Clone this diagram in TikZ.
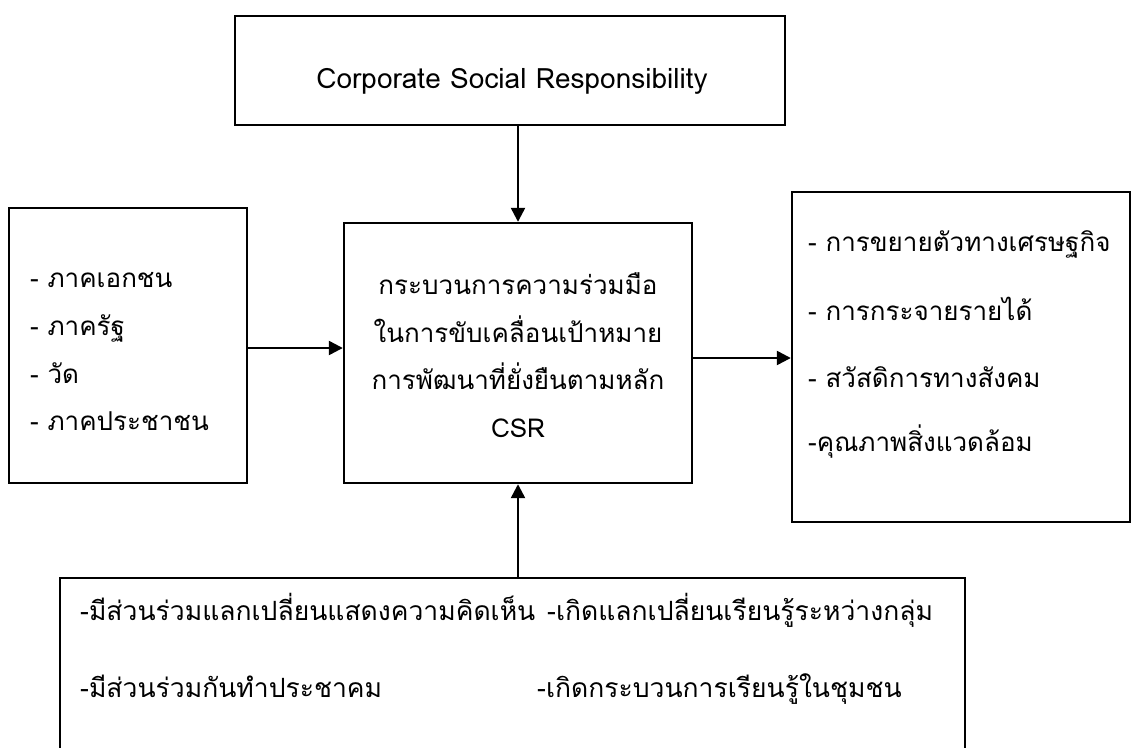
\documentclass[tikz,border=0pt]{standalone}
\usepackage{fontspec}
\setmainfont[Script=Thai]{Loma}
\usetikzlibrary{arrows.meta}
\begin{document}
\begin{tikzpicture}[x=1pt,y=-1pt,
  box/.style={draw=black, line width=2.4pt, inner sep=0pt},
  txt/.style={inner sep=0pt, font=\fontsize{26}{30}\selectfont},
  btxt/.style={inner sep=0pt, font=\fontsize{26.5}{30}\selectfont},
  conn/.style={line width=2.4pt, -{Triangle[length=14pt,width=14pt]}}]
\useasboundingbox (0,0) rectangle (1132,747);
\fill[white] (0,0) rectangle (1132,747);
% boxes
\node[box, minimum width=550pt, minimum height=109pt] (top) at (510,70.5) {};
\node[box, minimum width=238pt, minimum height=275pt] (lft) at (128,345.5) {};
\node[box, minimum width=348pt, minimum height=260pt] (ctr) at (518,353) {};
\node[box, minimum width=338pt, minimum height=330pt] (rgt) at (961,357) {};
\node[box, minimum width=905pt, minimum height=190pt] (bot) at (512.5,673) {};
% texts
\node[inner sep=0pt, font=\fontsize{28}{32}\selectfont, anchor=base] (t0) at (512,88) {Corporate Social Responsibility};
\node[txt, anchor=base west] (l1) at (30,287) {- ภาคเอกชน};
\node[txt, anchor=base west] (l2) at (30,335) {- ภาครัฐ};
\node[txt, anchor=base west] (l3) at (30,383) {- วัด};
\node[txt, anchor=base west] (l4) at (30,430) {- ภาคประชาชน};
\node[txt, anchor=base] (c1) at (518,294) {กระบวนการความร่วมมือ};
\node[txt, anchor=base] (c2) at (518,342) {ในการขับเคลื่อนเป้าหมาย};
\node[txt, anchor=base] (c3) at (518,389) {การพัฒนาที่ยั่งยืนตามหลัก};
\node[txt, anchor=base] (c4) at (518,437) {CSR};
\node[txt, anchor=base west] (r1) at (808,251) {- การขยายตัวทางเศรษฐกิจ};
\node[txt, anchor=base west] (r2) at (808,320) {- การกระจายรายได้};
\node[txt, anchor=base west] (r3) at (808,387) {- สวัสดิการทางสังคม};
\node[txt, anchor=base west] (r4) at (808,451) {-คุณภาพสิ่งแวดล้อม};
\node[btxt, anchor=base west] (b1) at (80,620) {-มีส่วนร่วมแลกเปลี่ยนแสดงความคิดเห็น};
\node[btxt, anchor=base west] (b2) at (547,620) {-เกิดแลกเปลี่ยนเรียนรู้ระหว่างกลุ่ม};
\node[btxt, anchor=base west] (b3) at (80,697) {-มีส่วนร่วมกันทำประชาคม};
\node[btxt, anchor=base west] (b4) at (537,697) {-เกิดกระบวนการเรียนรู้ในชุมชน};
% connectors
\draw[conn] (top.south -| ctr.north) -- (ctr.north);
\draw[conn] ([yshift=-2.5pt]lft.east) -- ([yshift=-2.5pt]lft.east -| ctr.west);
\draw[conn] ([yshift=-5pt]ctr.east) -- ([yshift=-5pt]ctr.east -| rgt.west);
\draw[conn] (bot.north -| ctr.south) -- (ctr.south);
\end{tikzpicture}
\end{document}
